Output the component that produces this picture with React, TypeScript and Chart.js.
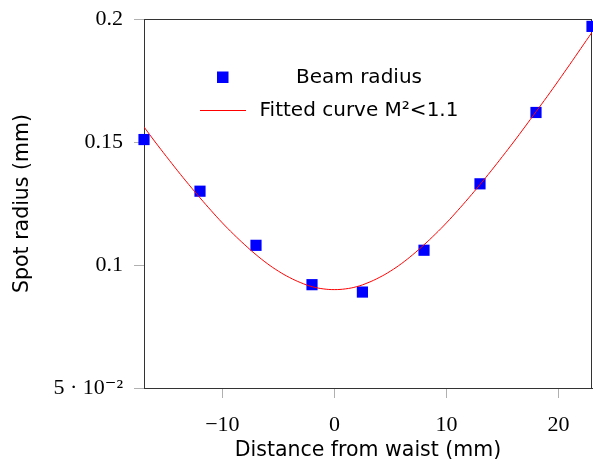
import React, { useEffect, useRef } from "react";
import { Chart, registerables } from "chart.js";

Chart.register(...registerables);

const BEAM_X = [-17, -12, -7, -2, 2.5, 8, 13, 18, 23];
const BEAM_Y = [0.151, 0.13, 0.108, 0.092, 0.089, 0.106, 0.133, 0.162, 0.197];

const CURVE_X = [
  -17, -16, -15, -14, -13, -12, -11, -10, -9, -8, -7, -6, -5, -4, -3, -2, -1, 0,
  1, 2, 3, 4, 5, 6, 7, 8, 9, 10, 11, 12, 13, 14, 15, 16, 17, 18, 19, 20, 21, 22, 23,
];
const CURVE_Y = [
  0.1561, 0.15, 0.1441, 0.1383, 0.1327, 0.1273, 0.1221, 0.1171, 0.1125, 0.1082,
  0.1042, 0.1006, 0.0975, 0.0949, 0.0928, 0.0912, 0.0903, 0.09, 0.0903, 0.0912,
  0.0928, 0.0949, 0.0975, 0.1006, 0.1042, 0.1082, 0.1125, 0.1171, 0.1221, 0.1273,
  0.1327, 0.1383, 0.1441, 0.15, 0.1561, 0.1623, 0.1685, 0.1749, 0.1814, 0.188, 0.1946,
];

const X_TICKS = [-10, 0, 10, 20];
const Y_TICKS = [0.05, 0.1, 0.15, 0.2];
const Y_TICK_LABELS = ["5 \u00b7 10\u207b\u00b2", "0.1", "0.15", "0.2"];

const LEGEND_LABELS = ["Beam radius", "Fitted curve M\u00b2<1.1"];

const SERIF = "'Liberation Serif', 'DejaVu Serif', serif";
const SANS = "'DejaVu Sans', sans-serif";

const framePlugin = {
  id: "frame",
  beforeDatasetsDraw(chart: any) {
    const { ctx, chartArea } = chart;
    ctx.save();
    ctx.strokeStyle = "#333";
    ctx.lineWidth = 1;
    ctx.strokeRect(
      Math.round(chartArea.left) + 0.5,
      Math.round(chartArea.top) + 0.5,
      Math.round(chartArea.right - chartArea.left) - 1,
      Math.round(chartArea.bottom - chartArea.top)
    );
    ctx.restore();
  },
};

const legendPlugin = {
  id: "innerLegend",
  afterDraw(chart: any) {
    const { ctx, chartArea } = chart;
    const L = chartArea.left;
    const T = chartArea.top;
    ctx.save();
    ctx.fillStyle = "#0000ff";
    ctx.fillRect(L + 73, T + 52.5, 11.5, 11.5);
    ctx.strokeStyle = "#ff0000";
    ctx.lineWidth = 1;
    ctx.beginPath();
    ctx.moveTo(L + 56, T + 91.5);
    ctx.lineTo(L + 102, T + 91.5);
    ctx.stroke();
    ctx.fillStyle = "#000";
    ctx.font = `20px ${SANS}`;
    ctx.textAlign = "center";
    ctx.textBaseline = "middle";
    ctx.fillText(LEGEND_LABELS[0], L + 215, T + 58.5);
    ctx.fillText(LEGEND_LABELS[1], L + 215, T + 91.5);
    ctx.restore();
  },
};

function zeroPad(scale: any) {
  scale.paddingTop = 0;
  scale.paddingBottom = 0;
  scale.paddingLeft = 0;
  scale.paddingRight = 0;
}

export default function App() {
  const ref = useRef<HTMLCanvasElement>(null);

  useEffect(() => {
    document.body.style.margin = "0";
    const canvas = ref.current;
    if (!canvas) return;
    const chart = new Chart(canvas, {
      type: "scatter",
      data: {
        datasets: [
          {
            type: "line",
            label: LEGEND_LABELS[1],
            data: CURVE_X.map((x, i) => ({ x, y: CURVE_Y[i] })),
            borderColor: "#ff0000",
            borderWidth: 1,
            pointRadius: 0,
            tension: 0.4,
            fill: false,
          } as any,
          {
            label: LEGEND_LABELS[0],
            data: BEAM_X.map((x, i) => ({ x, y: BEAM_Y[i] })),
            pointStyle: "rect",
            pointRadius: 7.9,
            pointHoverRadius: 7.9,
            pointBackgroundColor: "#0000ff",
            pointBorderWidth: 0,
            borderWidth: 0,
            clip: false,
          } as any,
        ],
      },
      options: {
        animation: false,
        responsive: false,
        devicePixelRatio: 1,
        events: [],
        layout: { autoPadding: false, padding: { top: 19, right: 1, left: 0, bottom: 0 } },
        plugins: {
          legend: { display: false },
          tooltip: { enabled: false },
        },
        scales: {
          x: {
            type: "linear",
            min: -17,
            max: 23,
            afterFit(scale: any) {
              scale.height = 78;
              zeroPad(scale);
            },
            afterBuildTicks(scale: any) {
              scale.ticks = X_TICKS.map((v) => ({ value: v }));
            },
            grid: {
              drawOnChartArea: false,
              drawTicks: true,
              tickLength: 10,
              color: "#b0b0b0",
            },
            border: { display: true, color: "#333" },
            ticks: {
              padding: 14,
              color: "#000",
              font: { family: SERIF, size: 22 },
              callback: (v: any) => (v < 0 ? "\u2212" + Math.abs(v) : String(v)),
              maxRotation: 0,
            },
            title: {
              display: true,
              text: "Distance from waist (mm)",
              color: "#000",
              font: { family: SANS, size: 20.5 },
              padding: { top: 0, bottom: 3 },
            },
          },
          y: {
            type: "linear",
            min: 0.05,
            max: 0.2,
            afterFit(scale: any) {
              scale.width = 144;
              zeroPad(scale);
            },
            afterBuildTicks(scale: any) {
              scale.ticks = Y_TICKS.map((v) => ({ value: v }));
            },
            grid: {
              drawOnChartArea: false,
              drawTicks: true,
              tickLength: 10,
              color: "#b0b0b0",
            },
            border: { display: true, color: "#333" },
            ticks: {
              padding: 11,
              color: "#000",
              font: { family: SERIF, size: 22 },
              callback: (v: any) => {
                const i = Y_TICKS.findIndex((t) => Math.abs(t - v) < 1e-9);
                return i >= 0 ? Y_TICK_LABELS[i] : "";
              },
            },
            title: {
              display: true,
              text: "Spot radius (mm)",
              color: "#000",
              font: { family: SANS, size: 20.5 },
              padding: { top: 10, bottom: 0 },
            },
          },
        },
      } as any,
      plugins: [framePlugin, legendPlugin],
    });
    return () => chart.destroy();
  }, []);

  return (
    <div style={{ width: 593, height: 466 }}>
      <canvas ref={ref} width={593} height={466} style={{ display: "block" }} />
    </div>
  );
}
